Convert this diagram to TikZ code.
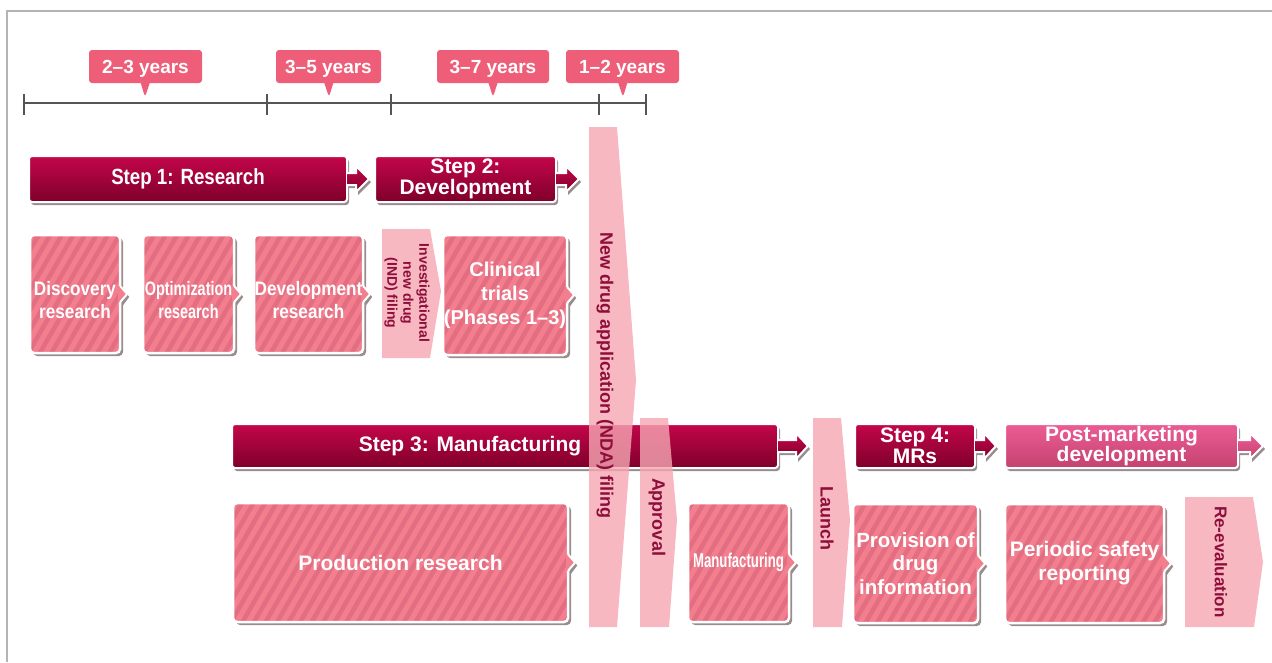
\documentclass[tikz,border=0pt]{standalone}
\usepackage{fontspec}
\setmainfont{Liberation Sans}
\usetikzlibrary{shapes.callouts,shadows,patterns.meta,calc}
\definecolor{yearc}{HTML}{EF5E79}
\definecolor{hbase}{HTML}{F27E8E}
\definecolor{hdark}{HTML}{E36E82}
\definecolor{bandc}{HTML}{F5A6B3}
\definecolor{bandtxt}{HTML}{8E0D3A}
\definecolor{stepT}{HTML}{C4064A}
\definecolor{stepB}{HTML}{7E002A}
\definecolor{pmT}{HTML}{EC5C96}
\definecolor{pmB}{HTML}{C4436F}
\definecolor{shadowc}{HTML}{9A8C8C}
\definecolor{framec}{HTML}{B4B4B4}
\definecolor{tlc}{HTML}{555555}
\newcommand\fs[2]{\fontsize{#1}{#2}\selectfont}
\newcommand\cond[2]{\scalebox{#1}[1]{#2}}
\tikzset{
  yearbox/.style={rectangle callout, fill=yearc, rounded corners=3pt, text=white,
    font=\bfseries\fs{19}{22}, inner sep=0, minimum height=33pt, callout pointer width=9pt,
    text height=13.6pt, text depth=0pt},
  tickline/.style={draw=tlc, line width=1.3pt},
  stepbar/.style={rounded corners=3pt, top color=stepT, bottom color=stepB, draw=white,
    line width=2pt, drop shadow={shadow xshift=2pt, shadow yshift=-3pt, fill=shadowc, opacity=1},
    text=white, align=center, inner sep=0, font=\bfseries\fs{21}{21}},
  pmbar/.style={stepbar, top color=pmT, bottom color=pmB},
  steparrow/.style={top color=stepT, bottom color=stepB, draw=white, line width=2pt,
    line join=miter, drop shadow={shadow xshift=2pt, shadow yshift=-3pt, fill=shadowc, opacity=1}},
  pmarrow/.style={steparrow, top color=pmT, bottom color=pmB},
  hbox/.style={rounded corners=4pt, fill=hbase,
    postaction={pattern={Lines[angle=60,distance=10pt,line width=4.5pt]}, pattern color=hdark},
    postaction={draw=white, line width=2.5pt},
    drop shadow={shadow xshift=3pt, shadow yshift=-3pt, fill=shadowc, opacity=1},
    text=white, align=center, inner sep=0, font=\bfseries\fs{19}{23}},
  htext/.style={text=white, align=center, inner sep=0, font=\bfseries\fs{19.5}{23}},
  band/.style={fill=bandc, fill opacity=0.8},
  bandtext/.style={rotate=-90, text=bandtxt, font=\bfseries\fs{18}{18}, inner sep=0, align=center},
}
% arrow tab of a step bar: #1 node, #2 stub length, #3 head length, #4 style
\newcommand\barrow[4]{%
  \path[#4] ($(#1.east)+(-1,-6)$) -- ++(#2+1,0) -- ++(0,-7) -- ++(#3,13) -- ++(-#3,13)
    -- ++(0,-7) -- ++(-#2-1,0);
}
% small tab of a hatched box
\newcommand\htab[1]{%
  \fill[shadowc] ($(#1.east)+(3,-5)$) -- ++(6,8) -- ++(-6,8) -- cycle;
  \fill[hbase] ($(#1.east)+(-2,-8)$) -- ++(2,0) -- ++(7,8) -- ++(-7,8) -- ++(-2,0) -- cycle;
  \draw[white, line width=2pt] ($(#1.east)+(0,-8)$) -- ++(7,8) -- ++(-7,8);
}
\begin{document}
\begin{tikzpicture}[x=1pt,y=-1pt]
\useasboundingbox (0,0) rectangle (1272,662);
% frame
\draw[framec, line width=2pt] (1272,11) -- (7,11) -- (7,662);

% timeline
\coordinate (t0) at (24,103);
\coordinate (t1) at (267,103);
\coordinate (t2) at (391,103);
\coordinate (t3) at (599,103);
\coordinate (t4) at (646,103);
\draw[tickline] (t0) -- (t4);
\foreach \c in {t0,t1,t2,t3,t4}
  \draw[tickline] ($(\c)+(0,-9)$) -- ($(\c)+(0,12)$);

% year callouts
\coordinate (q1) at (145,97);
\coordinate (q2) at (329,97);
\coordinate (q3) at (493,97);
\coordinate (q4) at (623,97);
\node[yearbox, minimum width=113pt, callout absolute pointer={(q1)}] (y1) at (145.5,66.5) {2–3 years};
\node[yearbox, minimum width=105pt, callout absolute pointer={(q2)}] (y2) at (328.5,66.5) {3–5 years};
\node[yearbox, minimum width=112pt, callout absolute pointer={(q3)}] (y3) at (493,66.5) {3–7 years};
\node[yearbox, minimum width=113pt, callout absolute pointer={(q4)}] (y4) at (622.5,66.5) {1–2 years};

% step 1 and 2 bars
\node[stepbar, minimum width=318pt, minimum height=46pt] (s1) at (188,179) {\cond{0.85}{\fs{22}{22}Step 1: Research}};
\barrow{s1}{8}{13}{steparrow}
\node[stepbar, minimum width=181pt, minimum height=46pt] (s2) at (465.5,179) {Step 2:\\Development};
\barrow{s2}{9}{13}{steparrow}

% research boxes
\node[hbox, minimum width=90pt, minimum height=118pt] (d1) at (75,294) {};
\htab{d1}
\node[htext] (d1t) at (75,300) {\cond{0.88}{Discovery}\\\cond{0.88}{research}};
\node[hbox, minimum width=91pt, minimum height=118pt] (d2) at (188.5,294) {};
\htab{d2}
\node[htext] (d2t) at (188.5,300) {\cond{0.74}{Optimization}\\\cond{0.74}{research}};
\node[hbox, minimum width=109pt, minimum height=118pt] (d3) at (308.5,294) {};
\htab{d3}
\node[htext] (d3t) at (308.5,300) {\cond{0.88}{Development}\\\cond{0.88}{research}};
\node[hbox, minimum width=124pt, minimum height=120pt, font=\bfseries\fs{20}{24}] (d4) at (505,295) {Clinical\\trials\\(Phases 1–3)};
\htab{d4}

% IND band
\fill[band] (382,229) -- (430,229) -- (441,291) -- (430,358) -- (382,358) -- cycle;
\node[bandtext, font=\bfseries\fs{14}{16}] (ind) at (407,293) {Investigational\\new drug\\(IND) filing};

% step 3, 4, post-marketing bars
\node[stepbar, minimum width=546pt, minimum height=44pt] (s3) at (505,446) {};
\barrow{s3}{17}{12}{steparrow}
\node[text=white, font=\bfseries\fs{21}{21}, inner sep=0] (s3t) at (470,446) {Step 3: Manufacturing};
\node[stepbar, minimum width=120pt, minimum height=44pt] (s4) at (915,446) {Step 4:\\MRs};
\barrow{s4}{8}{12}{steparrow}
\node[pmbar, minimum width=233pt, minimum height=44pt, font=\bfseries\fs{21}{20}] (pm) at (1121.5,446) {Post-marketing\\development};
\barrow{pm}{11}{13}{pmarrow}

% lower boxes
\node[hbox, minimum width=335pt, minimum height=119pt, font=\bfseries\fs{21}{24}] (p1) at (400.5,562.5) {Production research};
\htab{p1}
\node[hbox, minimum width=101pt, minimum height=119pt, font=\bfseries\fs{20}{22}] (p2) at (738.5,562.5) {\cond{0.66}{Manufacturing}};
\htab{p2}
\node[hbox, minimum width=125pt, minimum height=119pt, font=\bfseries\fs{20.5}{23.5}] (p3) at (915.5,563.5) {Provision of\\drug\\information};
\htab{p3}
\node[hbox, minimum width=159pt, minimum height=119pt, font=\bfseries\fs{21}{24}] (p4) at (1084.5,563.5) {Periodic safety\\reporting};
\htab{p4}

% vertical bands
\fill[band] (589,127) -- (617,127) -- (636,380) -- (617,627) -- (589,627) -- cycle;
\fill[band] (640,418) -- (668,418) -- (677,520) -- (669,627) -- (640,627) -- cycle;
\fill[band] (813,418) -- (841,418) -- (850,520) -- (842,627) -- (813,627) -- cycle;
\fill[band] (1185,497) -- (1253,497) -- (1263,562) -- (1254,627) -- (1185,627) -- cycle;
\node[bandtext] (nda) at (605,375) {New drug application (NDA) filing};
\node[bandtext] (appr) at (657,517) {Approval};
\node[bandtext] (launch) at (827,518) {Launch};
\node[bandtext, font=\bfseries\fs{17}{17}] (reeval) at (1221,562) {Re-evaluation};
\end{tikzpicture}
\end{document}
